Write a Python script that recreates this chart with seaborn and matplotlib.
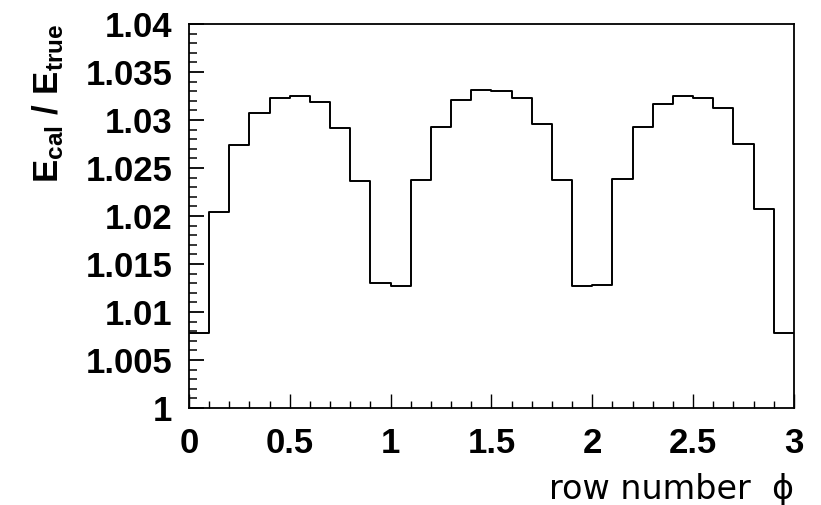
import numpy as np
import pandas as pd
import seaborn as sns
import matplotlib.pyplot as plt
from matplotlib.ticker import MultipleLocator, FuncFormatter

# bin centres (row number phi) and mean calibrated / true energy per bin
row_phi = [0.05, 0.15, 0.25, 0.35, 0.45, 0.55, 0.65, 0.75, 0.85, 0.95,
           1.05, 1.15, 1.25, 1.35, 1.45, 1.55, 1.65, 1.75, 1.85, 1.95,
           2.05, 2.15, 2.25, 2.35, 2.45, 2.55, 2.65, 2.75, 2.85, 2.95]
e_ratio = [1.0078, 1.0204, 1.0274, 1.0307, 1.0323, 1.0325, 1.0319, 1.0292, 1.0236, 1.0130,
           1.0127, 1.0237, 1.0293, 1.0321, 1.0331, 1.0330, 1.0323, 1.0296, 1.0237, 1.0127,
           1.0128, 1.0239, 1.0293, 1.0317, 1.0325, 1.0323, 1.0312, 1.0275, 1.0207, 1.0078]

df = pd.DataFrame({"phi": row_phi, "ratio": e_ratio})

sns.set_theme(style="ticks")
plt.rcParams['font.family'] = ['Liberation Sans', 'DejaVu Sans']
plt.rcParams['text.color'] = 'black'
plt.rcParams['axes.labelcolor'] = 'black'
plt.rcParams['xtick.color'] = 'black'
plt.rcParams['ytick.color'] = 'black'
plt.rcParams['mathtext.fontset'] = 'custom'
plt.rcParams['mathtext.rm'] = 'Liberation Sans:bold'
plt.rcParams['mathtext.it'] = 'Liberation Sans:bold'
plt.rcParams['mathtext.bf'] = 'Liberation Sans:bold'

fig = plt.figure(figsize=(8.21, 5.05), dpi=100)
ax = fig.add_axes([0.2302, 0.1921, 0.7369, 0.7604])

sns.histplot(data=df, x="phi", weights="ratio", bins=30, binrange=(0, 3),
             element="step", fill=False, color="black", linewidth=1.4, ax=ax)

ax.set_xlim(0, 3)
ax.set_ylim(1, 1.04)

ax.xaxis.set_major_locator(MultipleLocator(0.5))
ax.xaxis.set_minor_locator(MultipleLocator(0.1))
ax.yaxis.set_major_locator(MultipleLocator(0.005))
ax.yaxis.set_minor_locator(MultipleLocator(0.001))
fmt = FuncFormatter(lambda v, p: "%g" % round(v, 4))
ax.xaxis.set_major_formatter(fmt)
ax.yaxis.set_major_formatter(fmt)

ax.tick_params(axis="both", which="both", direction="in", top=False, right=False,
               color="black", labelcolor="black")
ax.tick_params(axis="y", which="major", length=11, width=1.3, pad=12)
ax.tick_params(axis="y", which="minor", length=6, width=1.1)
ax.tick_params(axis="x", which="major", length=10, width=1.0, pad=14)
ax.tick_params(axis="x", which="minor", length=5, width=1.0)
for lab in ax.get_xticklabels() + ax.get_yticklabels():
    lab.set_fontsize(25)
    lab.set_fontweight("bold")

for sp in ax.spines.values():
    sp.set_color("black")
    sp.set_linewidth(1.3)

ax.set_ylabel(r"$\mathrm{E_{cal}\ /\ E_{true}}$", fontsize=25, loc="top", labelpad=14)
ax.set_xlabel("row number  \u03d5", fontsize=24, loc="right", labelpad=9,
              family=["DejaVu Sans"])

fig.savefig("out.png", dpi=100)
